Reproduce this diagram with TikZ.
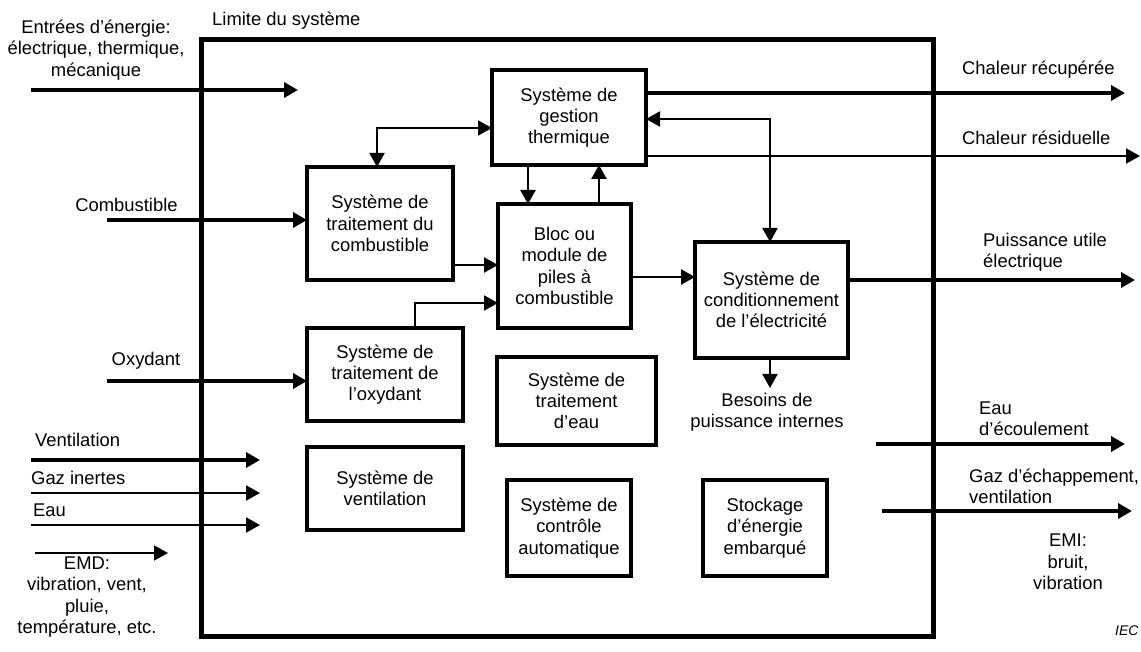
\documentclass[tikz,border=0pt]{standalone}
\usepackage{fontspec}
\setmainfont{Liberation Sans}
\usetikzlibrary{arrows.meta}
\newcommand\dfont{\fontsize{18.4}{21.3}\selectfont}
\tikzset{
  box/.style={draw, line width=3.5pt, align=center, inner sep=0pt, outer sep=0pt, font=\dfont},
  lbl/.style={align=center, inner sep=0pt, font=\dfont},
  arr/.style={-{Triangle[length=14pt,width=15pt]}},
  arrboth/.style={{Triangle[length=14pt,width=15pt]}-{Triangle[length=14pt,width=15pt]}},
  wHeavy/.style={line width=3.6pt},
  wMed/.style={line width=2.5pt},
  wLight/.style={line width=2pt},
}
\begin{document}
\begin{tikzpicture}[x=1pt,y=-1pt]
\path[use as bounding box] (0,0) rectangle (1141,652);
% system boundary
\draw[line width=5pt] (201,40) rectangle (933,636);
% boxes
\node[box, minimum width=154pt, minimum height=95pt] (therm) at (569,117.5) {Système de\\gestion\\thermique};
\node[box, minimum width=146pt, minimum height=113pt] (fuel) at (380,223.5) {Système de\\traitement du\\combustible};
\node[box, minimum width=133pt, minimum height=124pt, line width=3.7pt] (bloc) at (564.5,266) {Bloc ou\\module de\\piles à\\combustible};
\node[box, minimum width=153pt, minimum height=116pt] (pc) at (771.5,300) {Système de\\conditionnement\\de l’électricité};
\node[box, minimum width=156pt, minimum height=93pt] (oxy) at (385,374.5) {Système de\\traitement de\\l’oxydant};
\node[box, minimum width=156pt, minimum height=83pt] (vent) at (385,488.5) {Système de\\ventilation};
\node[box, minimum width=159pt, minimum height=88pt] (water) at (576.5,401) {Système de\\traitement\\d’eau};
\node[box, minimum width=124pt, minimum height=96pt] (ctrl) at (569,528) {Système de\\contrôle\\automatique};
\node[box, minimum width=124pt, minimum height=96pt] (stock) at (765,528) {Stockage\\d’énergie\\embarqué};
% labels
\node[lbl, anchor=west] (lim) at (212,21) {Limite du système};
\node[lbl] (lenergy) at (96,50) {Entrées d’énergie:\\électrique, thermique,\\mécanique};
\node[lbl] (lcomb) at (126.5,205) {Combustible};
\node[lbl] (loxy) at (146,361) {Oxydant};
\node[lbl, anchor=west] (lvent) at (35,440) {Ventilation};
\node[lbl, anchor=west] (lgaz) at (31,478) {Gaz inertes};
\node[lbl, anchor=west] (leau) at (33,510) {Eau};
\node[lbl] (lemd) at (87,597) {EMD:\\vibration, vent,\\pluie,\\température, etc.};
\node[lbl, anchor=west] (lrec) at (962,70) {Chaleur récupérée};
\node[lbl, anchor=west] (lres) at (962,138) {Chaleur résiduelle};
\node[lbl, anchor=west, align=left] (lpu) at (983,252) {Puissance utile\\électrique};
\node[lbl, anchor=west, align=left] (lecou) at (979,419) {Eau\\d’écoulement};
\node[lbl, anchor=west, align=left] (lgazech) at (969,486) {Gaz d’échappement,\\ventilation};
\node[lbl] (lemi) at (1068,562) {EMI:\\bruit,\\vibration};
\node[lbl] (lbes) at (767,412) {Besoins de\\puissance internes};
\node[lbl, anchor=west, font=\fontsize{14}{16}\selectfont\itshape] (liec) at (1115,631) {IEC};
% coordinates
\coordinate (eA) at (31,90); \coordinate (eB) at (298,90);
\coordinate (cA) at (107,220);
\coordinate (oA) at (107,381);
\coordinate (vA) at (31,460); \coordinate (vB) at (260,460);
\coordinate (gA) at (31,493); \coordinate (gB) at (260,493);
\coordinate (wA) at (31,525); \coordinate (wB) at (260,525);
\coordinate (mA) at (35,553); \coordinate (mB) at (168,553);
\coordinate (k1) at (377,128);
\coordinate (k2) at (528,0);
\coordinate (k3) at (599,0);
\coordinate (k4) at (0,265);
\coordinate (k5) at (415,303);
\coordinate (k6) at (0,277);
\coordinate (k7) at (770,119);
\coordinate (hA) at (1125,93);
\coordinate (rA) at (1140,156);
\coordinate (pA) at (1135,280);
\coordinate (iA) at (770,388);
\coordinate (dA) at (876,444); \coordinate (dB) at (1125,444);
\coordinate (xA) at (882,511); \coordinate (xB) at (1132,511);
% connectors
\draw[wHeavy,arr] (eA) -- (eB);
\draw[wHeavy,arr] (cA) -- (cA -| fuel.west);
\draw[wHeavy,arr] (oA) -- (oA -| oxy.west);
\draw[wHeavy,arr] (vA) -- (vB);
\draw[wLight,arr] (gA) -- (gB);
\draw[wLight,arr] (wA) -- (wB);
\draw[wLight,arr] (mA) -- (mB);
\draw[wLight,arrboth] (k1 |- fuel.north) |- (k1 -| therm.west);
\draw[wMed,arr] (k2 |- therm.south) -- (k2 |- bloc.north);
\draw[wMed,arr] (k3 |- bloc.north) -- (k3 |- therm.south);
\draw[wMed,arr] (k4 -| fuel.east) -- (k4 -| bloc.west);
\draw[wLight,arr] (k5 |- oxy.north) |- (k5 -| bloc.west);
\draw[wMed,arr] (k6 -| bloc.east) -- (k6 -| pc.west);
\draw[wLight,arrboth] (k7 -| therm.east) -| (k7 |- pc.north);
\draw[wHeavy,arr] (hA -| therm.east) -- (hA);
\draw[wLight,arr] (rA -| therm.east) -- (rA);
\draw[wHeavy,arr] (pA -| pc.east) -- (pA);
\draw[wLight,arr] (iA |- pc.south) -- (iA);
\draw[wHeavy,arr] (dA) -- (dB);
\draw[wHeavy,arr] (xA) -- (xB);
\end{tikzpicture}
\end{document}
